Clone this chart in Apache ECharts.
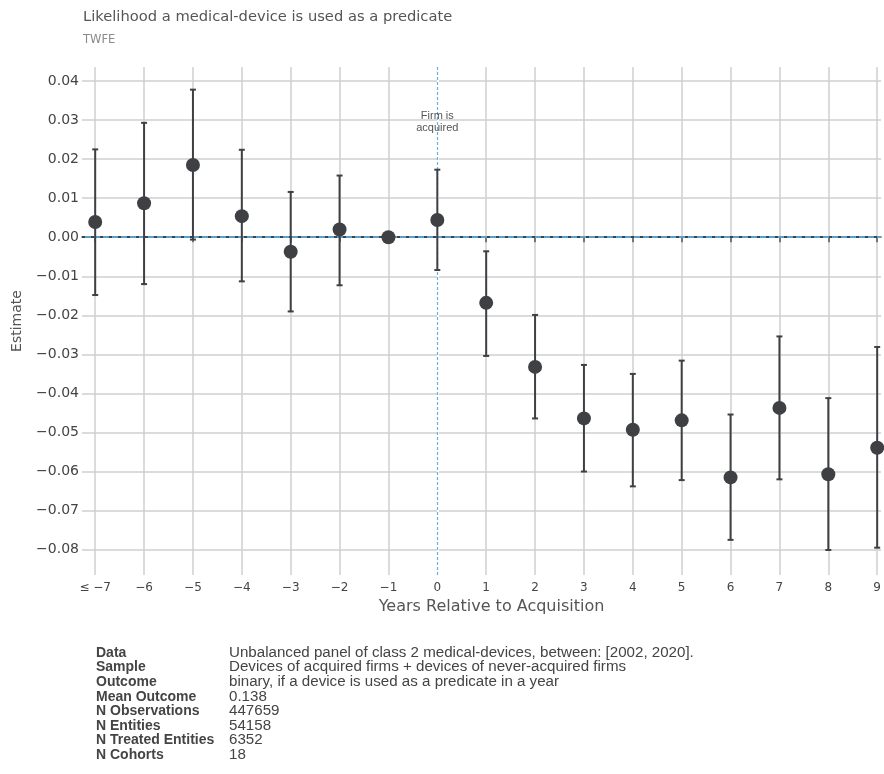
<!DOCTYPE html>
<html>
<head>
<meta charset="utf-8">
<script src="https://cdn.jsdelivr.net/npm/echarts@6/dist/echarts.min.js"></script>
<style>
  html, body { margin: 0; padding: 0; background: #fff; }
  #chart { width: 884px; height: 774px; }
</style>
</head>
<body>
<div id="chart"></div>
<script>
// Event-study estimates (TWFE) by year relative to acquisition
const years = [-7, -6, -5, -4, -3, -2, -1, 0, 1, 2, 3, 4, 5, 6, 7, 8, 9];
const estimates = [0.0039, 0.0087, 0.0185, 0.0054, -0.0037, 0.0020, 0.0, 0.0044, -0.0168, -0.0332, -0.0464, -0.0493, -0.0469, -0.0615, -0.0437, -0.0607, -0.0539];
const ciLower = [-0.0148, -0.0120, -0.0006, -0.0113, -0.0190, -0.0123, null, -0.0084, -0.0304, -0.0464, -0.0600, -0.0638, -0.0622, -0.0775, -0.0620, -0.0801, -0.0795];
const ciUpper = [0.0225, 0.0293, 0.0378, 0.0224, 0.0116, 0.0158, null, 0.0173, -0.0036, -0.0199, -0.0327, -0.0350, -0.0316, -0.0454, -0.0254, -0.0412, -0.0281];

const yTicks = [-0.08, -0.07, -0.06, -0.05, -0.04, -0.03, -0.02, -0.01, 0.0, 0.01, 0.02, 0.03, 0.04];
const xTicks = years;

const tableLabels = ['Data', 'Sample', 'Outcome', 'Mean Outcome', 'N Observations', 'N Entities', 'N Treated Entities', 'N Cohorts'];
const tableValues = [
  'Unbalanced panel of class 2 medical-devices, between: [2002, 2020].',
  'Devices of acquired firms + devices of never-acquired firms',
  'binary, if a device is used as a predicate in a year',
  '0.138',
  '447659',
  '54158',
  '6352',
  '18'
];

const MINUS = '\u2212';
const fmtY = v => (v < 0 ? MINUS : '') + Math.abs(v).toFixed(2);
const fmtX = v => (v === -7 ? '\u2264 ' + MINUS + '7' : (v < 0 ? MINUS + Math.abs(v) : String(v)));

const pointColor = '#3e4044';
const gridColor = '#cfcfcf';
const uiFont = '"DejaVu Sans", Verdana, sans-serif';
const tableFont = '"Liberation Sans", Arial, sans-serif';

const barData = [];
const pointData = [];
years.forEach((y, i) => {
  pointData.push([y, estimates[i]]);
  if (ciLower[i] !== null) barData.push([y, ciLower[i], ciUpper[i]]);
});

// Summary table under the plot, drawn as text elements
const tableGraphics = [];
const rowTop = 646, rowStep = 14.6;
tableLabels.forEach((label, i) => {
  tableGraphics.push({
    type: 'text', x: 96, y: rowTop + i * rowStep,
    style: { text: label, font: 'bold 14px ' + tableFont, fill: '#444', verticalAlign: 'top' }
  });
  tableGraphics.push({
    type: 'text', x: 229, y: rowTop + i * rowStep, scaleX: 1.08,
    style: { text: tableValues[i], font: '14px ' + tableFont, fill: '#444', verticalAlign: 'top' }
  });
});

const chart = echarts.init(document.getElementById('chart'), null, { renderer: 'canvas' });
chart.setOption({
  animation: false,
  backgroundColor: '#fff',
  title: {
    text: 'Likelihood a medical-device is used as a predicate',
    subtext: 'TWFE',
    left: 78, top: 5, itemGap: 9,
    textStyle: { fontFamily: uiFont, fontSize: 14.7, fontWeight: 'normal', color: '#555' },
    subtextStyle: { fontFamily: uiFont, fontSize: 11.5, color: '#8a8a8a' }
  },
  grid: { left: 82, right: 0, top: 67, bottom: 199, containLabel: false },
  xAxis: {
    type: 'value', min: -7.27, max: 9.08,
    name: 'Years Relative to Acquisition', nameLocation: 'middle', nameGap: 24,
    nameTextStyle: { fontFamily: uiFont, fontSize: 16, color: '#555', padding: [0, 0, 0, 20] },
    axisLine: { show: true, lineStyle: { color: '#555', width: 1.5 } },
    axisTick: { show: true, length: 5, customValues: xTicks, lineStyle: { color: '#555', width: 1.5 } },
    axisLabel: { customValues: xTicks, formatter: fmtX, fontFamily: uiFont, fontSize: 12, color: '#444', margin: 7 },
    splitLine: { show: true, lineStyle: { color: gridColor, width: 1.5 } }
  },
  yAxis: {
    type: 'value', min: -0.0865, max: 0.0436,
    name: 'Estimate', nameLocation: 'middle', nameGap: 58, nameRotate: 90,
    nameTextStyle: { fontFamily: uiFont, fontSize: 14, color: '#555' },
    axisLine: { show: false },
    axisTick: { show: false, customValues: yTicks },
    axisLabel: { customValues: yTicks, formatter: fmtY, fontFamily: uiFont, fontSize: 14, color: '#444', margin: 3 },
    splitLine: { show: true, lineStyle: { color: gridColor, width: 1.5 } }
  },
  graphic: tableGraphics,
  series: [
    {
      // reference lines: zero estimate and acquisition year
      type: 'line', data: [], z: 1, silent: true,
      markLine: {
        silent: true, symbol: 'none', label: { show: false }, z: 1,
        data: [
          { xAxis: 0, lineStyle: { color: '#ffffff', width: 2, type: 'solid' } },
          { xAxis: 0, lineStyle: { color: '#6aaedb', width: 1.2, type: [3, 2] } },
          { yAxis: 0, lineStyle: { color: '#5b9fcc', width: 2, type: 'solid' } },
          { yAxis: 0, lineStyle: { color: '#3e4448', width: 2, type: [3, 6] } }
        ]
      },
      markPoint: {
        symbol: 'circle', symbolSize: 0,
        label: {
          show: true, formatter: 'Firm is\nacquired', color: '#555',
          fontFamily: tableFont, fontSize: 11, lineHeight: 12, position: 'inside'
        },
        data: [{ coord: [0, 0.0294] }]
      }
    },
    {
      // confidence intervals
      type: 'custom', z: 10, silent: true,
      renderItem: function (params, api) {
        const top = api.coord([api.value(0), api.value(2)]);
        const bot = api.coord([api.value(0), api.value(1)]);
        const cap = 3;
        const style = { stroke: pointColor, lineWidth: 2 };
        return {
          type: 'group',
          children: [
            { type: 'line', shape: { x1: top[0], y1: top[1], x2: bot[0], y2: bot[1] }, style },
            { type: 'line', shape: { x1: top[0] - cap, y1: top[1], x2: top[0] + cap, y2: top[1] }, style },
            { type: 'line', shape: { x1: bot[0] - cap, y1: bot[1], x2: bot[0] + cap, y2: bot[1] }, style }
          ]
        };
      },
      encode: { x: 0, y: [1, 2] },
      data: barData
    },
    {
      type: 'scatter', z: 11, symbol: 'circle', symbolSize: 14,
      itemStyle: { color: pointColor, opacity: 1 },
      data: pointData
    }
  ]
});
</script>
</body>
</html>
